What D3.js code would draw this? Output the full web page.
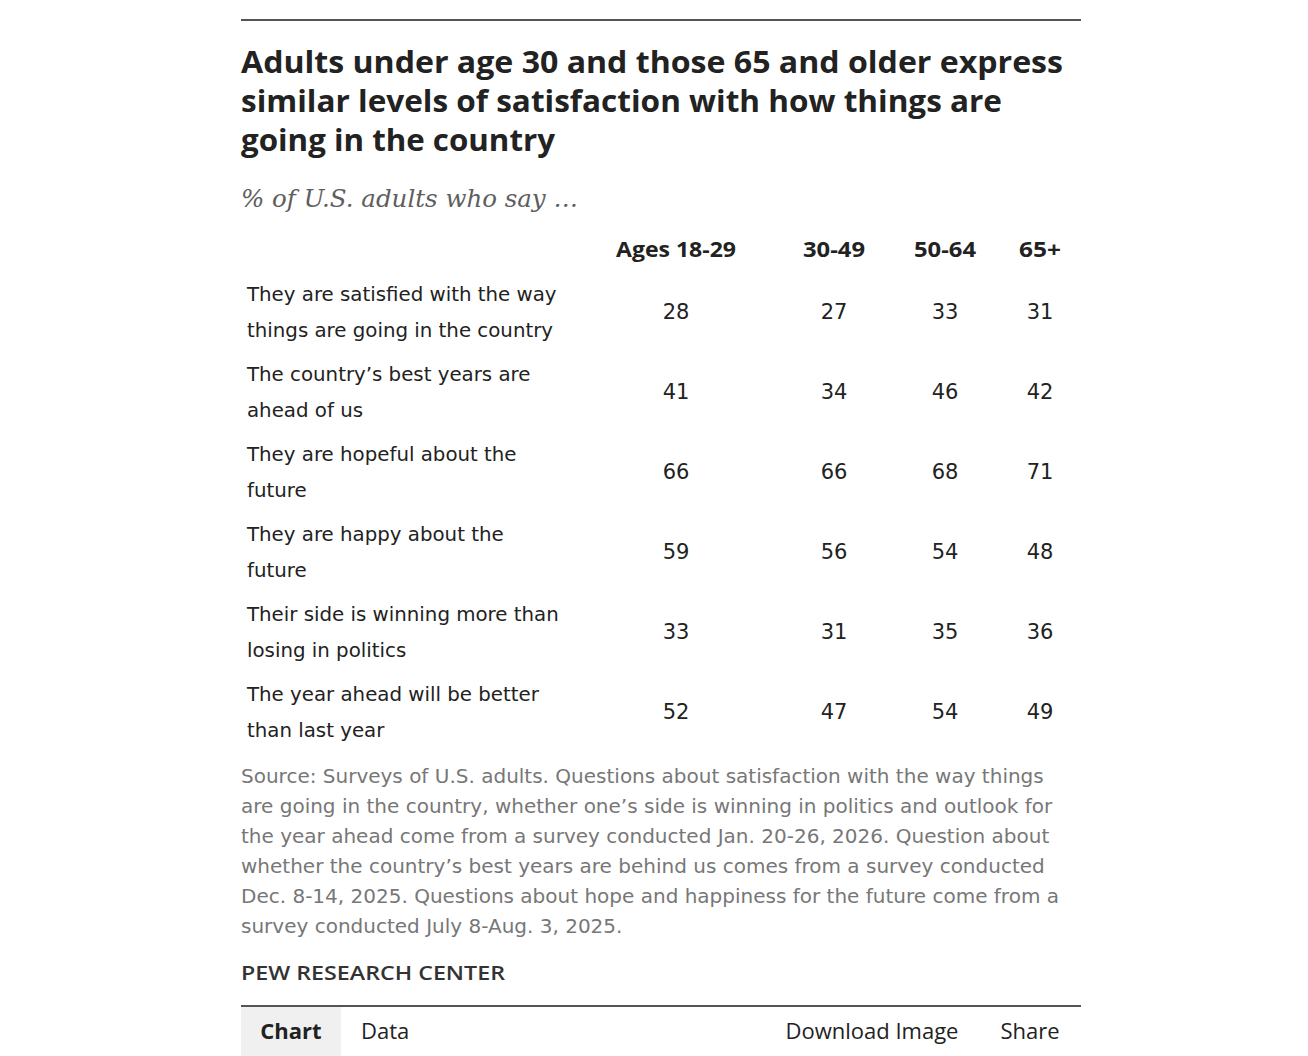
<!DOCTYPE html>
<html>
<head>
<meta charset="utf-8">
<script src="https://cdn.jsdelivr.net/npm/d3@7"></script>
<style>
  body { margin: 0; background: #fff; }
</style>
</head>
<body>
<svg id="chart" width="1308" height="1056"></svg>
<script>
// data
var titleLines = [
    'Adults under age 30 and those 65 and older express',
    'similar levels of satisfaction with how things are',
    'going in the country'
];
var subtitle = '% of U.S. adults who say \u2026';
var ageGroups = ['Ages 18-29', '30-49', '50-64', '65+'];
var statements = [
    ['They are satisfied with the way', 'things are going in the country'],
    ['The country\u2019s best years are', 'ahead of us'],
    ['They are hopeful about the', 'future'],
    ['They are happy about the', 'future'],
    ['Their side is winning more than', 'losing in politics'],
    ['The year ahead will be better', 'than last year']
];
var ages18to29 = [28, 41, 66, 59, 33, 52];
var ages30to49 = [27, 34, 66, 56, 31, 47];
var ages50to64 = [33, 46, 68, 54, 35, 54];
var ages65plus = [31, 42, 71, 48, 36, 49];
var sourceLines = [
    'Source: Surveys of U.S. adults. Questions about satisfaction with the way things',
    'are going in the country, whether one\u2019s side is winning in politics and outlook for',
    'the year ahead come from a survey conducted Jan. 20-26, 2026. Question about',
    'whether the country\u2019s best years are behind us comes from a survey conducted',
    'Dec. 8-14, 2025. Questions about hope and happiness for the future come from a',
    'survey conducted July 8-Aug. 3, 2025.'
];
var tabsLeft = ['Chart', 'Data'];
var tabsRight = ['Download Image', 'Share'];

var seriesByGroup = [ages18to29, ages30to49, ages50to64, ages65plus];

var left = 241, right = 1081;
var sans = '"Open Sans", "Noto Sans", sans-serif';
var body = '"DejaVu Sans", "Noto Sans", sans-serif';
var svg = d3.select('#chart');

// squeeze/stretch a text to the width it takes in the original
function fitWidth(sel, w) {
    sel.attr('textLength', w).attr('lengthAdjust', 'spacingAndGlyphs');
}

// top rule
svg.append('line')
    .attr('x1', left).attr('x2', right)
    .attr('y1', 20).attr('y2', 20)
    .attr('stroke', '#555').attr('stroke-width', 2);

// title
svg.append('g').selectAll('text')
    .data(titleLines)
    .join('text')
    .attr('x', left)
    .attr('y', (d, i) => 73 + i * 39)
    .style('font-family', sans)
    .attr('font-size', 31)
    .attr('font-weight', 700)
    .attr('fill', '#222')
    .text(d => d)
    .each(function(d, i) { fitWidth(d3.select(this), [822, 761, 314][i]); });

var sub = svg.append('text')
    .attr('x', left).attr('y', 207)
    .style('font-family', '"DejaVu Serif", "Liberation Serif", serif')
    .attr('font-style', 'italic')
    .attr('font-size', 25)
    .attr('fill', '#5e5e5e')
    .text(subtitle);
fitWidth(sub, 337);

// column + row scales
var x = d3.scaleOrdinal()
    .domain(ageGroups)
    .range([676, 834, 945, 1040]);

var y = d3.scaleBand()
    .domain(d3.range(statements.length))
    .range([271, 271 + 80 * statements.length]);

svg.append('g').selectAll('text')
    .data(ageGroups)
    .join('text')
    .attr('x', d => x(d))
    .attr('y', 257)
    .attr('text-anchor', 'middle')
    .style('font-family', sans)
    .attr('font-size', 21)
    .attr('font-weight', 700)
    .attr('fill', '#222')
    .text(d => d)
    .each(function(d, i) { fitWidth(d3.select(this), [120, 62, 62, 42][i]); });

var rows = svg.append('g').selectAll('g')
    .data(statements)
    .join('g')
    .attr('transform', (d, i) => `translate(0,${y(i) + y.bandwidth() / 2})`);

rows.selectAll('text.label')
    .data(d => d)
    .join('text')
    .attr('class', 'label')
    .attr('x', 247)
    .attr('y', (d, i) => i === 0 ? -10 : 26)
    .style('font-family', body)
    .attr('font-size', 19.8)
    .attr('fill', '#222')
    .text(d => d);

rows.selectAll('text.val')
    .data((d, i) => ageGroups.map((g, j) => ({ group: g, value: seriesByGroup[j][i] })))
    .join('text')
    .attr('class', 'val')
    .attr('x', d => x(d.group))
    .attr('y', 8)
    .attr('text-anchor', 'middle')
    .style('font-family', body)
    .attr('font-size', 21)
    .attr('fill', '#222')
    .text(d => d.value);

// source note
svg.append('g').selectAll('text')
    .data(sourceLines)
    .join('text')
    .attr('x', left)
    .attr('y', (d, i) => 783 + i * 30)
    .style('font-family', body)
    .attr('font-size', 20)
    .attr('fill', '#777')
    .text(d => d);

svg.append('text')
    .attr('x', left).attr('y', 980)
    .style('font-family', sans)
    .attr('font-size', 20)
    .attr('font-weight', 600)
    .attr('fill', '#333')
    .text('PEW RESEARCH CENTER')
    .call(fitWidth, 264);

// bottom rule + tabs
svg.append('rect')
    .attr('x', left).attr('y', 1007)
    .attr('width', 100).attr('height', 49)
    .attr('fill', '#f0f0f0');

svg.append('line')
    .attr('x1', left).attr('x2', right)
    .attr('y1', 1006).attr('y2', 1006)
    .attr('stroke', '#555').attr('stroke-width', 2);

svg.append('text')
    .attr('x', 291).attr('y', 1039)
    .attr('text-anchor', 'middle')
    .style('font-family', sans)
    .attr('font-size', 22).attr('font-weight', 700)
    .attr('fill', '#222')
    .text(tabsLeft[0]);

svg.append('text')
    .attr('x', 361).attr('y', 1039)
    .style('font-family', sans)
    .attr('font-size', 22)
    .attr('fill', '#222')
    .text(tabsLeft[1]);

svg.append('g').selectAll('text')
    .data(tabsRight)
    .join('text')
    .attr('x', (d, i) => [872, 1030][i])
    .attr('y', 1039)
    .attr('text-anchor', 'middle')
    .style('font-family', sans)
    .attr('font-size', 22)
    .attr('fill', '#222')
    .text(d => d);
</script>
</body>
</html>
